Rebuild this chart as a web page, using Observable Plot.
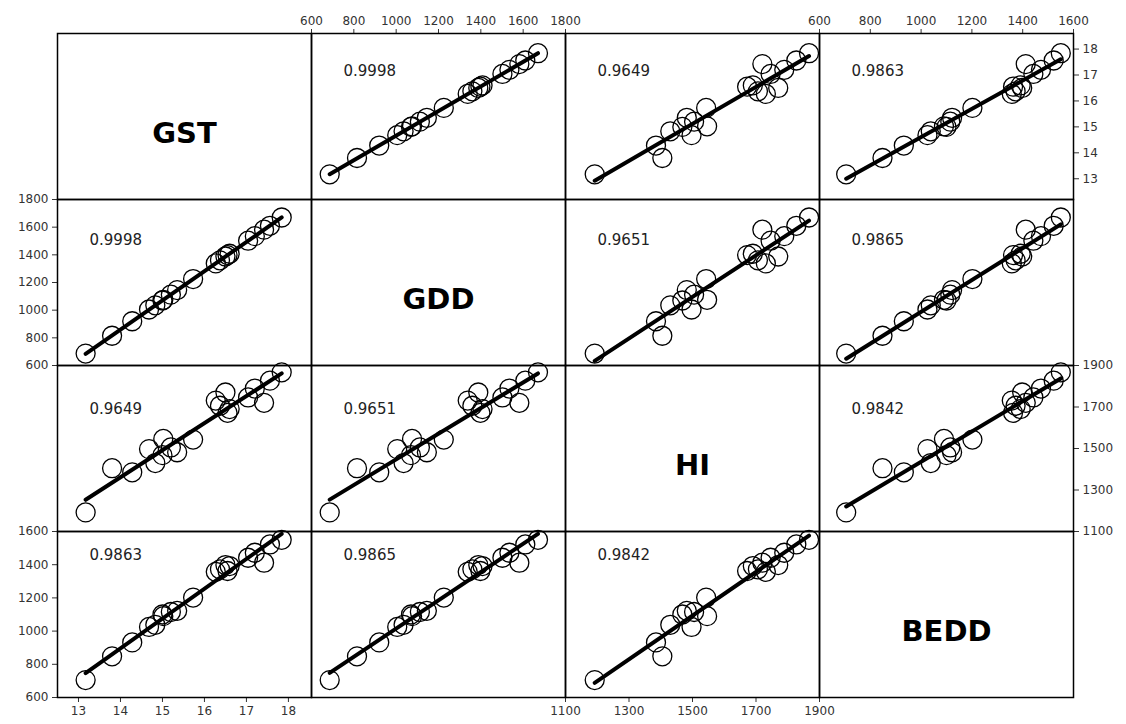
<!DOCTYPE html>
<html>
<head>
<meta charset="utf-8">
<script src="https://cdn.jsdelivr.net/npm/d3@7"></script>
<script src="https://cdn.jsdelivr.net/npm/@observablehq/plot@0.6"></script>
<style>
  html, body { margin: 0; padding: 0; background: white; }
  #chart { position: relative; width: 1126px; height: 724px; background: white; overflow: hidden; }
  #chart svg { position: absolute; }
</style>
</head>
<body>
<div id="chart"></div>
<script>
// ---- data ----
const variables = ["GST", "GDD", "HI", "BEDD"];
const gst  = [13.17, 13.80, 14.28, 14.68, 14.83, 15.02, 15.00, 15.20, 15.35, 15.73, 16.27, 16.50, 16.37, 16.55, 16.60, 17.04, 17.20, 17.42, 17.56, 17.84];
const gdd  = [686, 815, 920, 1005, 1035, 1075, 1070, 1112, 1145, 1225, 1338, 1388, 1360, 1398, 1408, 1502, 1535, 1582, 1610, 1670];
const hi   = [1192, 1405, 1385, 1497, 1430, 1546, 1468, 1505, 1482, 1543, 1731, 1770, 1706, 1672, 1690, 1746, 1789, 1720, 1827, 1867];
const bedd = [705, 848, 932, 1025, 1038, 1090, 1100, 1115, 1122, 1202, 1357, 1398, 1372, 1362, 1392, 1442, 1472, 1412, 1522, 1550];
const correlations = [
  ["",       "0.9998", "0.9649", "0.9863"],
  ["0.9998", "",       "0.9651", "0.9865"],
  ["0.9649", "0.9651", "",       "0.9842"],
  ["0.9863", "0.9865", "0.9842", ""]
];
const gstTicks  = [13, 14, 15, 16, 17, 18];
const gddTicks  = [600, 800, 1000, 1200, 1400, 1600, 1800];
const hiTicks   = [1100, 1300, 1500, 1700, 1900];
const beddTicks = [600, 800, 1000, 1200, 1400, 1600];

// ---- layout ----
const table = gst.map((g, i) => ({GST: g, GDD: gdd[i], HI: hi[i], BEDD: bedd[i]}));
const ticks = [gstTicks, gddTicks, hiTicks, beddTicks];
const colDomain = [[12.5, 18.55], [600, 1800], [1100, 1900], [600, 1600]];
const rowDomain = [[12.2, 18.6], [600, 1800], [1100, 1900], [600, 1600]];
const xEdges = [57, 311, 565, 819, 1073];
const yEdges = [33, 199, 365, 531, 697];
const ML = 50, MR = 50, MT = 30, MB = 30;
const corrDy = [38, 41, 44, 24];

const chart = document.getElementById("chart");
const baseStyle = {background: "transparent", fontFamily: "DejaVu Sans, Verdana, sans-serif", fontSize: "12px", color: "#333", overflow: "visible"};

for (let i = 0; i < 4; i++) {
  for (let j = 0; j < 4; j++) {
    const w = xEdges[j + 1] - xEdges[j];
    const h = yEdges[i + 1] - yEdges[i];
    let svg;
    if (i === j) {
      svg = Plot.plot({
        width: w + ML + MR, height: h + MT + MB,
        marginLeft: ML, marginRight: MR, marginTop: MT, marginBottom: MB,
        style: baseStyle,
        x: {domain: [0, 1], axis: null},
        y: {domain: [0, 1], axis: null},
        marks: [
          Plot.frame({stroke: "black", strokeWidth: 1.5}),
          Plot.text([variables[i]], {text: d => d, frameAnchor: "middle", dy: 17, fontSize: 29, fontWeight: "bold", fill: "black", fontFamily: "DejaVu Sans, Verdana, sans-serif"})
        ]
      });
    } else {
      let xAxis = null, yAxis = null;
      if (i === 0 && (j === 1 || j === 3)) xAxis = "top";
      if (i === 3 && (j === 0 || j === 2)) xAxis = "bottom";
      if (j === 0 && (i === 1 || i === 3)) yAxis = "left";
      if (j === 3 && (i === 0 || i === 2)) yAxis = "right";
      svg = Plot.plot({
        width: w + ML + MR, height: h + MT + MB,
        marginLeft: ML, marginRight: MR, marginTop: MT, marginBottom: MB,
        style: baseStyle,
        x: {domain: colDomain[j], axis: xAxis, ticks: ticks[j], tickFormat: d => String(d), tickSize: 5, label: null},
        y: {domain: rowDomain[i], axis: yAxis, ticks: ticks[i], tickFormat: d => String(d), tickSize: 5, label: null},
        marks: [
          Plot.frame({stroke: "black", strokeWidth: 1.5}),
          Plot.linearRegressionY(table, {x: variables[j], y: variables[i], ci: 0, stroke: "black", strokeWidth: 4}),
          Plot.dot(table, {x: variables[j], y: variables[i], r: 9.5, stroke: "black", strokeWidth: 1.3, fill: "none"}),
          Plot.text([correlations[i][j]], {text: d => d, frameAnchor: "top-left", textAnchor: "start", lineAnchor: "middle", dx: 32, dy: corrDy[i], fontSize: 15, fill: "#222"})
        ]
      });
    }
    svg.style.left = (xEdges[j] - ML) + "px";
    svg.style.top = (yEdges[i] - MT) + "px";
    chart.appendChild(svg);
  }
}
</script>
</body>
</html>
